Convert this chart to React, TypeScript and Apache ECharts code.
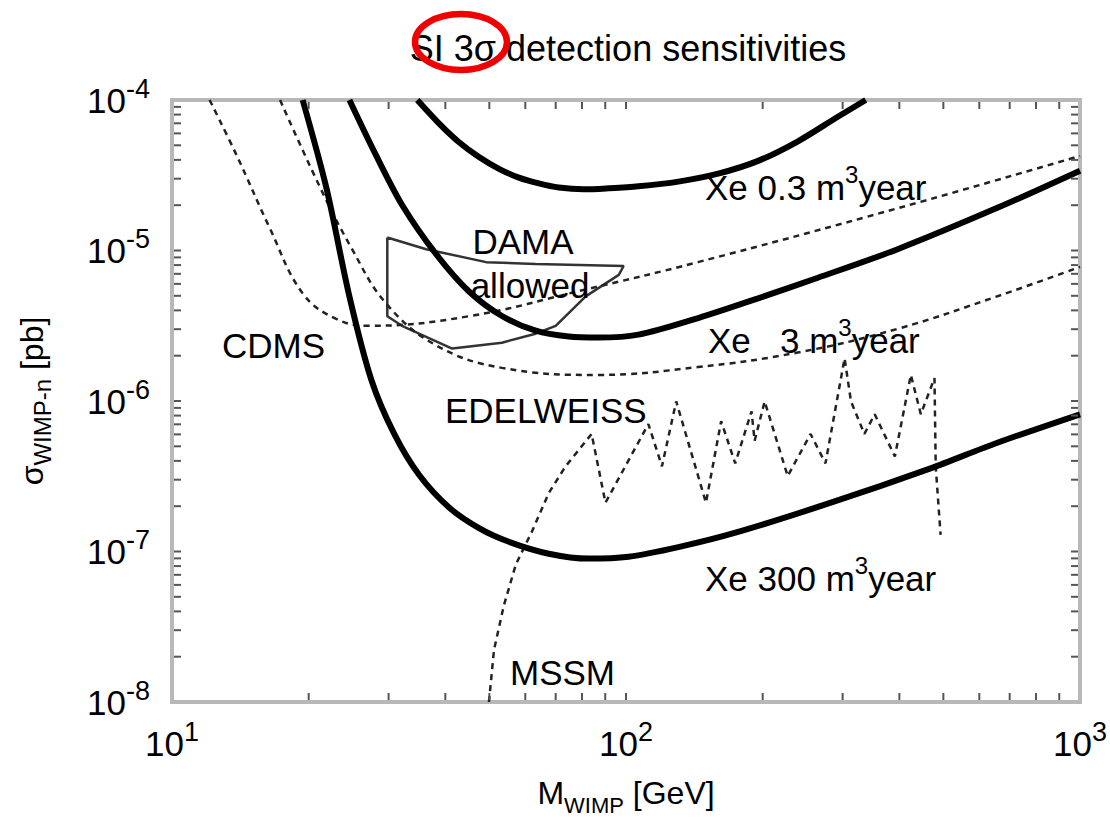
import React, { useEffect, useRef } from "react";
import * as echarts from "echarts";

const FONT = '"Liberation Sans", Arial, Helvetica, sans-serif';

// Xe 0.3 m^3 year (thick solid)
const xe03Mass = [34.7, 38.77, 42.88, 47.45, 52.5, 58.08, 64.26, 71.1, 80.66, 91.54, 106.5, 130.4, 159.6, 195.4, 239.2, 292.8, 337.3];
const xe03Sigma = [1e-4, 6.97e-5, 5.24e-5, 4.18e-5, 3.49e-5, 3.05e-5, 2.79e-5, 2.62e-5, 2.55e-5, 2.59e-5, 2.67e-5, 2.87e-5, 3.24e-5, 3.94e-5, 5.32e-5, 7.74e-5, 1e-4];

// Xe 3 m^3 year (thick solid)
const xe3Mass = [24.59, 28.19, 32.15, 38.18, 45.11, 53.3, 63.28, 74.78, 87.01, 106.5, 144.2, 195.4, 264.6, 396.5, 657.5, 1000];
const xe3Sigma = [1e-4, 4.25e-5, 2.0e-5, 9.45e-6, 5.34e-6, 3.67e-6, 2.93e-6, 2.68e-6, 2.64e-6, 2.76e-6, 3.56e-6, 4.81e-6, 6.59e-6, 1.02e-5, 1.92e-5, 3.39e-5];

// Xe 300 m^3 year (thick solid)
const xe300Mass = [19.4, 21.89, 24.59, 27.49, 30.87, 35.03, 40.76, 47.45, 55.21, 67.59, 82.73, 101.3, 130.4, 176.6, 282.6, 468.6, 657.5, 1000];
const xe300Sigma = [1e-4, 2.59e-5, 4.95e-6, 1.38e-6, 6.04e-7, 3.22e-7, 1.96e-7, 1.43e-7, 1.16e-7, 9.67e-8, 8.97e-8, 9.24e-8, 1.07e-7, 1.35e-7, 2.11e-7, 3.57e-7, 5.28e-7, 8.16e-7];

// CDMS limit (dashed)
const cdmsMass = [12.1, 13.9, 16.4, 19.4, 23.0, 27.2, 45.1, 81.5, 144, 397, 1000];
const cdmsSigma = [1e-4, 4.25e-5, 1.42e-5, 5.19e-6, 3.51e-6, 3.16e-6, 3.66e-6, 5.51e-6, 8.37e-6, 1.91e-5, 4.25e-5];

// EDELWEISS limit (dashed)
const edwMass = [17.3, 21.1, 24.8, 29.6, 38.2, 53.3, 87.0, 144, 239, 397, 657, 1000];
const edwSigma = [1e-4, 2.7e-5, 1.05e-5, 4.46e-6, 2.34e-6, 1.66e-6, 1.49e-6, 1.68e-6, 2.1e-6, 3.02e-6, 4.96e-6, 7.78e-6];

// MSSM scan (dashed, jagged)
const mssmMass = [49.9, 51.2, 53.8, 57.2, 62.0, 67.6, 73.6, 84.0, 90.1, 112, 120, 129, 150, 162, 174, 189, 192, 202, 227, 255, 275, 303, 313, 335, 353, 391, 424, 446, 478, 481, 493];
const mssmSigma = [1e-8, 2.22e-8, 4.36e-8, 8.2e-8, 1.35e-7, 2.45e-7, 3.68e-7, 6.04e-7, 2.11e-7, 7.03e-7, 3.68e-7, 9.93e-7, 2.11e-7, 7.35e-7, 3.85e-7, 8.53e-7, 5.44e-7, 9.93e-7, 3.17e-7, 6.04e-7, 3.85e-7, 1.92e-6, 9.93e-7, 6.04e-7, 8.17e-7, 4.28e-7, 1.49e-6, 8.17e-7, 1.42e-6, 3.68e-7, 1.29e-7];

// DAMA allowed region (closed contour)
const damaMass = [29.8, 36.3, 49.2, 63.2, 98.8, 96.4, 81.5, 70.0, 63.2, 53.3, 41.4, 32.1, 29.8, 29.8];
const damaSigma = [1.22e-5, 1.02e-5, 8.37e-6, 8.13e-6, 7.89e-6, 6.89e-6, 4.96e-6, 3.16e-6, 2.8e-6, 2.44e-6, 2.23e-6, 3.16e-6, 3.66e-6, 1.22e-5];

// tick values
const xTickValues = [20, 30, 40, 50, 60, 70, 80, 90, 100, 200, 300, 400, 500, 600, 700, 800, 900];
const yTickValues = [
  2e-8, 3e-8, 4e-8, 5e-8, 6e-8, 7e-8, 8e-8, 9e-8, 1e-7,
  2e-7, 3e-7, 4e-7, 5e-7, 6e-7, 7e-7, 8e-7, 9e-7, 1e-6,
  2e-6, 3e-6, 4e-6, 5e-6, 6e-6, 7e-6, 8e-6, 9e-6, 1e-5,
  2e-5, 3e-5, 4e-5, 5e-5, 6e-5, 7e-5, 8e-5, 9e-5,
];

const zip = (a: number[], b: number[]) => a.map((v, i) => [v, b[i]]);

const supRich = {
  b: { fontSize: 35, fontFamily: FONT, color: "#000", lineHeight: 50 },
  s: { fontSize: 27, fontFamily: FONT, color: "#000", lineHeight: 27, verticalAlign: "top" as const },
};

const labelRich = {
  n: { fontSize: 35, fontFamily: FONT, fill: "#000", color: "#000", lineHeight: 50 },
  s: { fontSize: 24, fontFamily: FONT, fill: "#000", color: "#000", lineHeight: 24, verticalAlign: "top" as const },
};

const expLabel = (v: number) => {
  const e = Math.round(Math.log10(v));
  return `{b|10}{s|${e}}`;
};

const thick = (name: string, m: number[], s: number[]) => ({
  type: "line",
  name,
  data: zip(m, s),
  showSymbol: false,
  smooth: 0.3,
  lineStyle: { color: "#000", width: 6 },
  z: 5,
});

const dashed = (name: string, m: number[], s: number[], smooth: number | boolean) => ({
  type: "line",
  name,
  data: zip(m, s),
  showSymbol: false,
  smooth,
  lineStyle: { color: "#222", width: 2.5, type: [6, 5] },
  z: 4,
});

const tickStyle = { stroke: "#555", lineWidth: 2 };
const TICK = 7;

const plainText = (text: string, x: number, y: number, align: string) => ({
  type: "text",
  x,
  y,
  style: { text, font: `35px ${FONT}`, fill: "#000", align, verticalAlign: "middle" },
  z: 50,
});

const supText = (text: string, x: number, y: number) => ({
  type: "text",
  x,
  y,
  style: { text, rich: labelRich, align: "left", verticalAlign: "middle" },
  z: 50,
});

export default function App() {
  const ref = useRef<HTMLDivElement>(null);
  useEffect(() => {
    if (!ref.current) return;
    const chart = echarts.init(ref.current, undefined, { renderer: "svg" });
    const option: any = {
      animation: false,
      backgroundColor: "#fff",
      grid: {
        left: 172,
        right: 27,
        top: 100,
        bottom: 108,
        show: true,
        borderColor: "#b8b8b8",
        borderWidth: 4,
        backgroundColor: "transparent",
      },
      xAxis: {
        type: "log",
        logBase: 10,
        min: 10,
        max: 1000,
        axisLine: { show: false },
        axisTick: { show: false },
        splitLine: { show: false },
        axisLabel: { formatter: expLabel, rich: supRich, margin: 16 },
        name: "{m|M}{sub|WIMP}{m| [GeV]}",
        nameLocation: "middle",
        nameGap: 68,
        nameTextStyle: {
          rich: {
            m: { fontSize: 32, fontFamily: FONT, color: "#000", lineHeight: 46 },
            sub: { fontSize: 22, fontFamily: FONT, color: "#000", lineHeight: 24, verticalAlign: "bottom" },
          },
        },
      },
      yAxis: {
        type: "log",
        logBase: 10,
        min: 1e-8,
        max: 1e-4,
        axisLine: { show: false },
        axisTick: { show: false },
        splitLine: { show: false },
        axisLabel: { formatter: expLabel, rich: supRich, margin: 22 },
        name: "{m|σ}{sub|WIMP-n}{m| [pb]}",
        nameLocation: "middle",
        nameRotate: 90,
        nameGap: 118,
        nameTextStyle: {
          rich: {
            m: { fontSize: 32, fontFamily: FONT, color: "#000", lineHeight: 44 },
            sub: { fontSize: 24, fontFamily: FONT, color: "#000", lineHeight: 24, verticalAlign: "bottom" },
          },
        },
      },
      series: [
        thick("Xe 0.3", xe03Mass, xe03Sigma),
        thick("Xe 3", xe3Mass, xe3Sigma),
        thick("Xe 300", xe300Mass, xe300Sigma),
        dashed("CDMS", cdmsMass, cdmsSigma, 0.4),
        dashed("EDELWEISS", edwMass, edwSigma, 0.4),
        dashed("MSSM", mssmMass, mssmSigma, false),
        {
          type: "line",
          name: "DAMA",
          data: zip(damaMass, damaSigma),
          showSymbol: false,
          smooth: false,
          lineStyle: { color: "#333", width: 2.5 },
          z: 3,
        },
        {
          type: "custom",
          name: "xticks",
          silent: true,
          clip: false,
          data: xTickValues.map((v) => [v, 1e-6]),
          renderItem: (params: any, api: any) => {
            const cs = params.coordSys;
            const x = api.coord([api.value(0), 1e-6])[0];
            return {
              type: "group",
              children: [
                { type: "line", shape: { x1: x, y1: cs.y + cs.height - 2, x2: x, y2: cs.y + cs.height - 2 - TICK }, style: tickStyle },
                { type: "line", shape: { x1: x, y1: cs.y + 2, x2: x, y2: cs.y + 2 + TICK }, style: tickStyle },
              ],
            };
          },
          z: 6,
        },
        {
          type: "custom",
          name: "yticks",
          silent: true,
          clip: false,
          data: yTickValues.map((v) => [100, v]),
          renderItem: (params: any, api: any) => {
            const cs = params.coordSys;
            const y = api.coord([100, api.value(1)])[1];
            return {
              type: "group",
              children: [
                { type: "line", shape: { x1: cs.x + 2, y1: y, x2: cs.x + 2 + TICK, y2: y }, style: tickStyle },
                { type: "line", shape: { x1: cs.x + cs.width - 2, y1: y, x2: cs.x + cs.width - 2 - TICK, y2: y }, style: tickStyle },
              ],
            };
          },
          z: 6,
        },
      ],
      graphic: [
        {
          type: "text",
          x: 628,
          y: 48,
          style: { text: "SI 3σ detection sensitivities", font: `36px ${FONT}`, fill: "#000", align: "center", verticalAlign: "middle" },
          z: 50,
        },
        {
          type: "ellipse",
          shape: { cx: 461, cy: 42, rx: 46, ry: 28 },
          style: { fill: "none", stroke: "#f00000", lineWidth: 6.5 },
          z: 60,
        },
        supText("{n|Xe 0.3 m}{s|3}{n|year}", 705, 187),
        plainText("DAMA", 523, 241, "center"),
        plainText("allowed", 530, 285, "center"),
        plainText("CDMS", 222, 345, "left"),
        supText("{n|Xe   3 m}{s|3}{n|year}", 708, 340),
        plainText("EDELWEISS", 445, 410, "left"),
        supText("{n|Xe 300 m}{s|3}{n|year}", 705, 578),
        plainText("MSSM", 510, 672, "left"),
      ],
    };
    chart.setOption(option);
    return () => chart.dispose();
  }, []);
  return <div ref={ref} style={{ position: "fixed", left: 0, top: 0, width: 1110, height: 821 }} />;
}
